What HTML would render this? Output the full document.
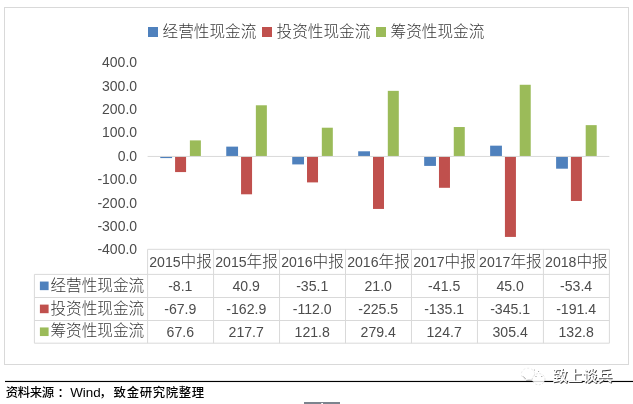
<!DOCTYPE html>
<html lang="zh"><head><meta charset="utf-8"><title>现金流</title>
<style>html,body{margin:0;padding:0;background:#fff}body{width:633px;height:404px;position:relative;overflow:hidden}</style></head>
<body>
<svg width="633" height="404" viewBox="0 0 633 404" style="position:absolute;left:0;top:0">
<rect x="4.5" y="7.5" width="624" height="357" fill="#fff" stroke="#d9d9d9" stroke-width="1"/>
<rect x="148" y="27" width="10" height="10" fill="#4f81bd"/>
<text x="162.5" y="36.7" font-size="15.65" font-family="Liberation Sans, Noto Sans CJK SC, sans-serif" font-weight="300" fill="#383838">经营性现金流</text>
<rect x="262" y="27" width="10" height="10" fill="#c0504d"/>
<text x="276.5" y="36.7" font-size="15.65" font-family="Liberation Sans, Noto Sans CJK SC, sans-serif" font-weight="300" fill="#383838">投资性现金流</text>
<rect x="376" y="27" width="10" height="10" fill="#9bbb59"/>
<text x="390.5" y="36.7" font-size="15.65" font-family="Liberation Sans, Noto Sans CJK SC, sans-serif" font-weight="300" fill="#383838">筹资性现金流</text>
<text x="137.1" y="67.19" text-anchor="end" font-size="14" font-family="Liberation Sans, sans-serif" fill="#4c4c4c">400.0</text>
<text x="137.1" y="90.58" text-anchor="end" font-size="14" font-family="Liberation Sans, sans-serif" fill="#4c4c4c">300.0</text>
<text x="137.1" y="113.97" text-anchor="end" font-size="14" font-family="Liberation Sans, sans-serif" fill="#4c4c4c">200.0</text>
<text x="137.1" y="137.36" text-anchor="end" font-size="14" font-family="Liberation Sans, sans-serif" fill="#4c4c4c">100.0</text>
<text x="137.1" y="160.75" text-anchor="end" font-size="14" font-family="Liberation Sans, sans-serif" fill="#4c4c4c">0.0</text>
<text x="137.1" y="184.14" text-anchor="end" font-size="14" font-family="Liberation Sans, sans-serif" fill="#4c4c4c">-100.0</text>
<text x="137.1" y="207.53" text-anchor="end" font-size="14" font-family="Liberation Sans, sans-serif" fill="#4c4c4c">-200.0</text>
<text x="137.1" y="230.92" text-anchor="end" font-size="14" font-family="Liberation Sans, sans-serif" fill="#4c4c4c">-300.0</text>
<text x="137.1" y="254.31" text-anchor="end" font-size="14" font-family="Liberation Sans, sans-serif" fill="#4c4c4c">-400.0</text>
<rect x="160.28" y="156.20" width="11.8" height="1.89" fill="#4f81bd"/>
<rect x="175.08" y="156.20" width="11" height="15.88" fill="#c0504d"/>
<rect x="189.88" y="140.39" width="11" height="15.81" fill="#9bbb59"/>
<rect x="226.25" y="146.63" width="11.8" height="9.57" fill="#4f81bd"/>
<rect x="241.06" y="156.20" width="11" height="38.10" fill="#c0504d"/>
<rect x="255.86" y="105.28" width="11" height="50.92" fill="#9bbb59"/>
<rect x="292.22" y="156.20" width="11.8" height="8.21" fill="#4f81bd"/>
<rect x="307.02" y="156.20" width="11" height="26.20" fill="#c0504d"/>
<rect x="321.82" y="127.71" width="11" height="28.49" fill="#9bbb59"/>
<rect x="358.19" y="151.29" width="11.8" height="4.91" fill="#4f81bd"/>
<rect x="373.00" y="156.20" width="11" height="52.74" fill="#c0504d"/>
<rect x="387.80" y="90.85" width="11" height="65.35" fill="#9bbb59"/>
<rect x="424.17" y="156.20" width="11.8" height="9.71" fill="#4f81bd"/>
<rect x="438.97" y="156.20" width="11" height="31.60" fill="#c0504d"/>
<rect x="453.77" y="127.03" width="11" height="29.17" fill="#9bbb59"/>
<rect x="490.13" y="145.67" width="11.8" height="10.53" fill="#4f81bd"/>
<rect x="504.93" y="156.20" width="11" height="80.72" fill="#c0504d"/>
<rect x="519.73" y="84.77" width="11" height="71.43" fill="#9bbb59"/>
<rect x="556.11" y="156.20" width="11.8" height="12.49" fill="#4f81bd"/>
<rect x="570.90" y="156.20" width="11" height="44.77" fill="#c0504d"/>
<rect x="585.70" y="125.14" width="11" height="31.06" fill="#9bbb59"/>
<line x1="147.6" y1="156.45" x2="609.39" y2="156.45" stroke="#d9d9d9" stroke-width="1"/>
<g stroke="#d9d9d9" stroke-width="1" fill="none">
<line x1="147.6" y1="249.3" x2="609.39" y2="249.3"/>
<line x1="34.4" y1="274.4" x2="609.39" y2="274.4"/>
<line x1="34.4" y1="297.5" x2="609.39" y2="297.5"/>
<line x1="34.4" y1="320.5" x2="609.39" y2="320.5"/>
<line x1="34.4" y1="343.2" x2="609.39" y2="343.2"/>
<line x1="34.4" y1="274.4" x2="34.4" y2="343.2"/>
<line x1="147.60" y1="249.3" x2="147.60" y2="343.2"/>
<line x1="213.57" y1="249.3" x2="213.57" y2="343.2"/>
<line x1="279.54" y1="249.3" x2="279.54" y2="343.2"/>
<line x1="345.51" y1="249.3" x2="345.51" y2="343.2"/>
<line x1="411.48" y1="249.3" x2="411.48" y2="343.2"/>
<line x1="477.45" y1="249.3" x2="477.45" y2="343.2"/>
<line x1="543.42" y1="249.3" x2="543.42" y2="343.2"/>
<line x1="609.39" y1="249.3" x2="609.39" y2="343.2"/>
</g>
<text x="180.58" y="267.4" text-anchor="middle" fill="#4c4c4c"><tspan font-size="14.1" font-family="Liberation Sans, sans-serif">2015</tspan><tspan font-size="15.65" font-family="Liberation Sans, Noto Sans CJK SC, sans-serif" font-weight="300" fill="#383838">中报</tspan></text>
<text x="246.56" y="267.4" text-anchor="middle" fill="#4c4c4c"><tspan font-size="14.1" font-family="Liberation Sans, sans-serif">2015</tspan><tspan font-size="15.65" font-family="Liberation Sans, Noto Sans CJK SC, sans-serif" font-weight="300" fill="#383838">年报</tspan></text>
<text x="312.52" y="267.4" text-anchor="middle" fill="#4c4c4c"><tspan font-size="14.1" font-family="Liberation Sans, sans-serif">2016</tspan><tspan font-size="15.65" font-family="Liberation Sans, Noto Sans CJK SC, sans-serif" font-weight="300" fill="#383838">中报</tspan></text>
<text x="378.50" y="267.4" text-anchor="middle" fill="#4c4c4c"><tspan font-size="14.1" font-family="Liberation Sans, sans-serif">2016</tspan><tspan font-size="15.65" font-family="Liberation Sans, Noto Sans CJK SC, sans-serif" font-weight="300" fill="#383838">年报</tspan></text>
<text x="444.47" y="267.4" text-anchor="middle" fill="#4c4c4c"><tspan font-size="14.1" font-family="Liberation Sans, sans-serif">2017</tspan><tspan font-size="15.65" font-family="Liberation Sans, Noto Sans CJK SC, sans-serif" font-weight="300" fill="#383838">中报</tspan></text>
<text x="510.43" y="267.4" text-anchor="middle" fill="#4c4c4c"><tspan font-size="14.1" font-family="Liberation Sans, sans-serif">2017</tspan><tspan font-size="15.65" font-family="Liberation Sans, Noto Sans CJK SC, sans-serif" font-weight="300" fill="#383838">年报</tspan></text>
<text x="576.40" y="267.4" text-anchor="middle" fill="#4c4c4c"><tspan font-size="14.1" font-family="Liberation Sans, sans-serif">2018</tspan><tspan font-size="15.65" font-family="Liberation Sans, Noto Sans CJK SC, sans-serif" font-weight="300" fill="#383838">中报</tspan></text>
<rect x="39.9" y="281.55" width="8.7" height="8.6" fill="#4f81bd"/>
<text x="50.4" y="290.55" font-size="15.65" font-family="Liberation Sans, Noto Sans CJK SC, sans-serif" font-weight="300" fill="#383838">经营性现金流</text>
<text x="180.28" y="291.05" text-anchor="middle" font-size="14.1" font-family="Liberation Sans, sans-serif" fill="#4c4c4c">-8.1</text>
<text x="246.25" y="291.05" text-anchor="middle" font-size="14.1" font-family="Liberation Sans, sans-serif" fill="#4c4c4c">40.9</text>
<text x="312.22" y="291.05" text-anchor="middle" font-size="14.1" font-family="Liberation Sans, sans-serif" fill="#4c4c4c">-35.1</text>
<text x="378.19" y="291.05" text-anchor="middle" font-size="14.1" font-family="Liberation Sans, sans-serif" fill="#4c4c4c">21.0</text>
<text x="444.17" y="291.05" text-anchor="middle" font-size="14.1" font-family="Liberation Sans, sans-serif" fill="#4c4c4c">-41.5</text>
<text x="510.13" y="291.05" text-anchor="middle" font-size="14.1" font-family="Liberation Sans, sans-serif" fill="#4c4c4c">45.0</text>
<text x="576.11" y="291.05" text-anchor="middle" font-size="14.1" font-family="Liberation Sans, sans-serif" fill="#4c4c4c">-53.4</text>
<rect x="39.9" y="304.60" width="8.7" height="8.6" fill="#c0504d"/>
<text x="50.4" y="313.60" font-size="15.65" font-family="Liberation Sans, Noto Sans CJK SC, sans-serif" font-weight="300" fill="#383838">投资性现金流</text>
<text x="180.28" y="314.10" text-anchor="middle" font-size="14.1" font-family="Liberation Sans, sans-serif" fill="#4c4c4c">-67.9</text>
<text x="246.25" y="314.10" text-anchor="middle" font-size="14.1" font-family="Liberation Sans, sans-serif" fill="#4c4c4c">-162.9</text>
<text x="312.22" y="314.10" text-anchor="middle" font-size="14.1" font-family="Liberation Sans, sans-serif" fill="#4c4c4c">-112.0</text>
<text x="378.19" y="314.10" text-anchor="middle" font-size="14.1" font-family="Liberation Sans, sans-serif" fill="#4c4c4c">-225.5</text>
<text x="444.17" y="314.10" text-anchor="middle" font-size="14.1" font-family="Liberation Sans, sans-serif" fill="#4c4c4c">-135.1</text>
<text x="510.13" y="314.10" text-anchor="middle" font-size="14.1" font-family="Liberation Sans, sans-serif" fill="#4c4c4c">-345.1</text>
<text x="576.11" y="314.10" text-anchor="middle" font-size="14.1" font-family="Liberation Sans, sans-serif" fill="#4c4c4c">-191.4</text>
<rect x="39.9" y="327.45" width="8.7" height="8.6" fill="#9bbb59"/>
<text x="50.4" y="336.45" font-size="15.65" font-family="Liberation Sans, Noto Sans CJK SC, sans-serif" font-weight="300" fill="#383838">筹资性现金流</text>
<text x="180.28" y="336.95" text-anchor="middle" font-size="14.1" font-family="Liberation Sans, sans-serif" fill="#4c4c4c">67.6</text>
<text x="246.25" y="336.95" text-anchor="middle" font-size="14.1" font-family="Liberation Sans, sans-serif" fill="#4c4c4c">217.7</text>
<text x="312.22" y="336.95" text-anchor="middle" font-size="14.1" font-family="Liberation Sans, sans-serif" fill="#4c4c4c">121.8</text>
<text x="378.19" y="336.95" text-anchor="middle" font-size="14.1" font-family="Liberation Sans, sans-serif" fill="#4c4c4c">279.4</text>
<text x="444.17" y="336.95" text-anchor="middle" font-size="14.1" font-family="Liberation Sans, sans-serif" fill="#4c4c4c">124.7</text>
<text x="510.13" y="336.95" text-anchor="middle" font-size="14.1" font-family="Liberation Sans, sans-serif" fill="#4c4c4c">305.4</text>
<text x="576.11" y="336.95" text-anchor="middle" font-size="14.1" font-family="Liberation Sans, sans-serif" fill="#4c4c4c">132.8</text>
<rect x="5" y="380.9" width="628" height="1.15" fill="#000"/>
<text y="396.9" font-family="Liberation Sans, Noto Sans CJK SC, sans-serif" font-weight="500" fill="#000"><tspan font-size="12.4" x="5.70 17.70 29.70 41.70 57.6">资料来源：</tspan><tspan font-size="13.4" x="70.2">Wind</tspan><tspan font-size="12.4" x="99.6">，</tspan><tspan font-size="12.4" x="113.60 126.63 139.66 152.69 165.72 178.75 191.78">致金研究院整理</tspan></text>
<rect x="304" y="402" width="36" height="2" fill="#7c848e"/>
<rect x="321.2" y="403" width="1.8" height="1" fill="#fff"/>
<g id="wm">
<ellipse cx="538.7" cy="379.2" rx="6.3" ry="5.6" fill="#fff" fill-opacity="0.82" stroke="#c8c8c8" stroke-width="0.5" stroke-dasharray="2 1.5"/>
<ellipse cx="528" cy="374" rx="6.6" ry="5.8" fill="none" stroke="#d5d5d5" stroke-width="0.5" stroke-dasharray="2 2"/>
<circle cx="536" cy="376.4" r="0.5" fill="#777"/><circle cx="541.8" cy="376.4" r="0.5" fill="#777"/><circle cx="534.4" cy="370" r="0.5" fill="#888"/><circle cx="538.6" cy="371.6" r="0.5" fill="#888"/><path d="M523 376.3 L525.6 378.9 M526.2 380.4 L531.8 380.2" stroke="#666" stroke-width="0.6" fill="none"/>
<text x="553.5" y="381.7" font-size="14.95" font-family="Liberation Sans, Noto Sans CJK SC, sans-serif" font-weight="500" fill="#3a3a3a">致上谈兵</text>
<text x="552.7" y="380.9" font-size="14.95" font-family="Liberation Sans, Noto Sans CJK SC, sans-serif" font-weight="500" fill="#fff">致上谈兵</text>
</g>
</svg>
</body></html>
